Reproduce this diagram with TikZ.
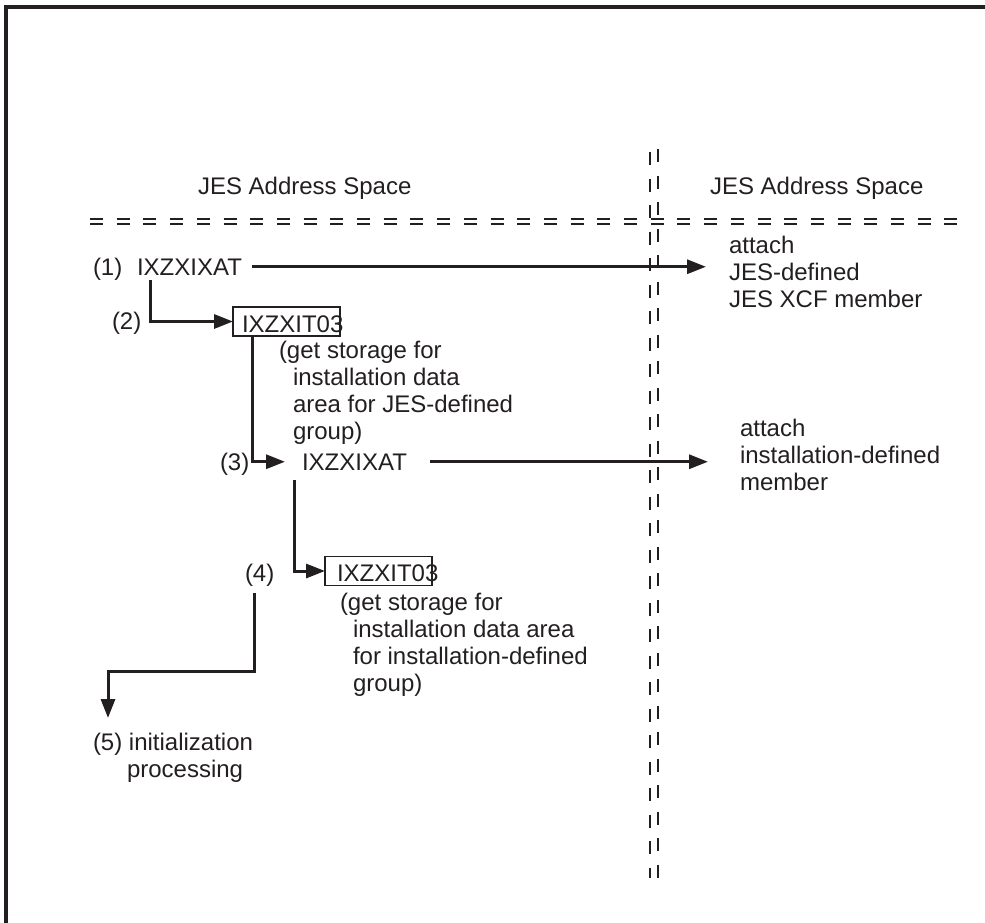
\documentclass[tikz,border=0pt]{standalone}
\usepackage{fontspec}
\setmainfont{Liberation Sans}
\usetikzlibrary{arrows.meta}
\definecolor{ink}{RGB}{35,31,32}
\begin{document}
\begin{tikzpicture}[x=1pt,y=-1pt,
  txt/.style={anchor=base west,inner sep=0pt,outer sep=0pt,text=ink,font=\fontsize{24}{27}\selectfont},
  conn/.style={draw=ink,line width=3pt},
  arr/.style={conn,-{Triangle[length=19pt,width=14pt]}},
  tbox/.style={draw=ink,line width=1.5pt,minimum width=107pt,minimum height=29pt,inner sep=0pt,outer sep=0pt},
  hdash/.style={draw=ink,line width=2.2pt,dash pattern=on 13pt off 13.7pt},
  vdash/.style={draw=ink,line width=2.8pt,dash pattern=on 13pt off 13.5pt},
  frameline/.style={draw=ink,line width=3.5pt}]
\useasboundingbox (0,0) rectangle (985,923);
% frame
\draw[frameline] (6,923) -- (6,7) -- (985,7);
% separators
\draw[hdash] (90,219) -- (960,219);
\draw[hdash] (90,224) -- (960,224);
\draw[vdash] (650,152) -- (650,878);
\draw[vdash] (658,149) -- (658,878);
% texts
\node[txt] (hL) at (198,194) {JES Address Space};
\node[txt] (hR) at (710,194) {JES Address Space};
\node[txt] (n1) at (93,275) {(1)};
\node[txt] (ix1) at (137,275) {IXZXIXAT};
\node[txt] (a1) at (729,253) {attach};
\node[txt] (a2) at (729,280) {JES-defined};
\node[txt] (a3) at (729,307) {JES XCF member};
\node[txt] (n2) at (112,329) {(2)};
\node[tbox] (box1) at (286.5,321.5) {};
\node[txt] (t1) at (242,332) {IXZXIT03};
\node[txt] (g1a) at (279,358) {(get storage for};
\node[txt] (g1b) at (293,385) {installation data};
\node[txt] (g1c) at (293,412) {area for JES-defined};
\node[txt] (g1d) at (293,439) {group)};
\node[txt] (n3) at (220,470) {(3)};
\node[txt] (ix3) at (302,470) {IXZXIXAT};
\node[txt] (b1) at (740,436) {attach};
\node[txt] (b2) at (740,463) {installation-defined};
\node[txt] (b3) at (740,490) {member};
\node[txt] (n4) at (245,581) {(4)};
\node[tbox] (box2) at (378.5,571) {};
\node[txt] (t2) at (337,581) {IXZXIT03};
\node[txt] (g2a) at (340,610) {(get storage for};
\node[txt] (g2b) at (353,637) {installation data area};
\node[txt] (g2c) at (353,664) {for installation-defined};
\node[txt] (g2d) at (353,691) {group)};
\node[txt] (n5) at (93,750) {(5) initialization};
\node[txt] (n5b) at (127,777) {processing};
% connector ends
\coordinate (s1) at (252,0);
\coordinate (tip1) at (706,0);
\coordinate (s2) at (430,0);
\coordinate (tip2) at (708,0);
\coordinate (tip5) at (108,718);
% connectors
\draw[arr] (ix1.east -| s1) -- (ix1.east -| tip1);
\draw[arr] ([xshift=13pt,yshift=-5pt]ix1.south west) |- (box1.west);
\draw[arr] ([xshift=19pt]box1.south west) |- ([xshift=-17pt]ix3.west);
\draw[arr] (ix3.east -| s2) -- (ix3.east -| tip2);
\draw[arr] ([xshift=-8pt,yshift=-10pt]ix3.south west) |- (box2.west);
\draw[arr] ([xshift=-5pt,yshift=-7pt]n4.south) -- ++(0,79) -| (tip5);
\end{tikzpicture}
\end{document}
